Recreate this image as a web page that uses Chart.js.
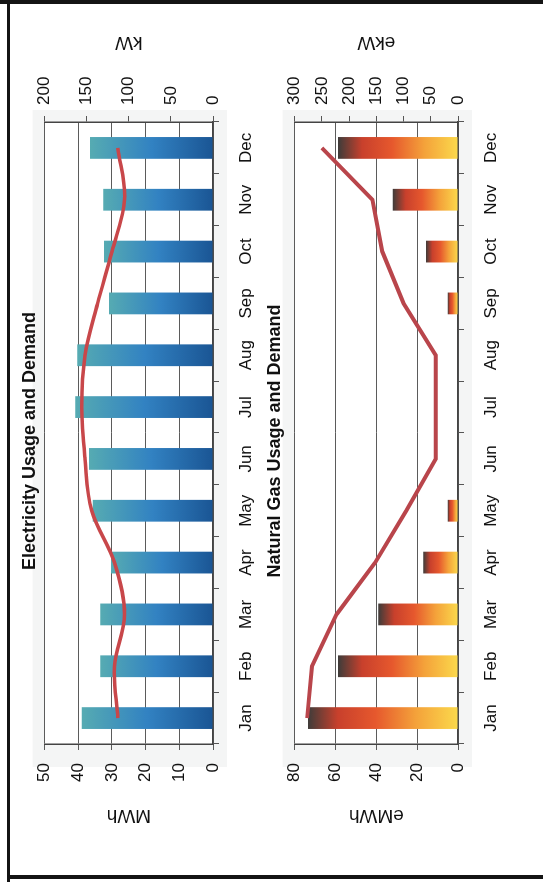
<!DOCTYPE html>
<html>
<head>
<meta charset="utf-8">
<title>Electricity and Natural Gas Usage and Demand</title>
<script src="https://cdn.jsdelivr.net/npm/chart.js@4.4.0/dist/chart.umd.min.js"></script>
<style>
    html, body { margin: 0; padding: 0; background: #fff; width: 543px; height: 882px; overflow: hidden; }
    /* the whole sheet is laid out landscape and turned a quarter to the left */
    #sheet { position: absolute; left: 0; top: 0; width: 882px; height: 543px; background: #fff;
             transform-origin: 0 0; transform: translate(0, 882px) rotate(-90deg); }
    .rule { position: absolute; background: #141414; }
    .chart-box { position: absolute; left: 0; width: 882px; height: 250px; }
    .chart-box canvas { display: block; }
</style>
</head>
<body>
<div id="sheet">
    <div class="rule" style="left:0;top:7px;width:882px;height:3px"></div>
    <div class="rule" style="left:878px;top:0;width:4px;height:543px"></div>
    <div class="rule" style="left:3px;top:8px;width:4px;height:535px"></div>
    <div class="chart-box" style="top:12px"><canvas id="elecChart" width="882" height="250"></canvas></div>
    <div class="chart-box" style="top:262px"><canvas id="gasChart" width="882" height="250"></canvas></div>
</div>

<script>
// ─── Data ───
const months = ['Jan', 'Feb', 'Mar', 'Apr', 'May', 'Jun', 'Jul', 'Aug', 'Sep', 'Oct', 'Nov', 'Dec'];

const elecUsageMWh = [39, 33.5, 33.5, 30.3, 35.7, 36.8, 40.9, 40.3, 30.9, 32.4, 32.6, 36.5];
const elecDemandKW = [113, 117, 105, 117, 144, 152, 156, 152, 137, 120, 105, 113];

const gasUsageEMWh = [73.5, 58.7, 39, 17, 5, 0, 0, 0, 5, 15.7, 32, 58.7];
const gasDemandEKW = [277, 268, 223, 152, 95, 41, 41, 41, 100, 139, 157, 250];

const elecLeftTicks = [0, 10, 20, 30, 40, 50];
const elecRightTicks = [0, 50, 100, 150, 200];
const gasLeftTicks = [0, 20, 40, 60, 80];
const gasRightTicks = [0, 50, 100, 150, 200, 250, 300];

// ─── Look ───
const FONT = "'Liberation Sans', Arial, sans-serif";
Chart.defaults.font.family = FONT;
Chart.defaults.color = '#111';

const elecStops = [[0, '#1a5594'], [0.5, '#3282c2'], [1, '#56abb2']];
const gasStops = [[0, '#fbd94c'], [0.28, '#f4a23a'], [0.55, '#e6582d'], [0.8, '#c8402c'], [1, '#3e3c3a']];

// gradient runs along each bar, from its base to its tip
function barFill(stops) {
    return (c) => {
        const chart = c.chart;
        if (!chart.chartArea) return stops[0][1];
        const y = chart.scales.y;
        const base = y.getPixelForValue(0);
        const tip = y.getPixelForValue(c.raw || 0);
        if (Math.abs(base - tip) < 1) return stops[0][1];
        const g = chart.ctx.createLinearGradient(0, base, 0, tip);
        stops.forEach(([o, col]) => g.addColorStop(o, col));
        return g;
    };
}

// light panel behind each plot
const plotPanel = {
    id: 'plotPanel',
    beforeDraw(chart) {
        const a = chart.chartArea;
        const ctx = chart.ctx;
        ctx.save();
        ctx.fillStyle = '#f4f5f5';
        ctx.fillRect(a.left - 23, a.top - 12, a.width + 35, a.height + 26);
        ctx.fillStyle = '#fff';
        ctx.fillRect(a.left, a.top, a.width, a.height);
        ctx.restore();
    }
};

// both axis titles read bottom-to-top, as on the sheet
const sideTitles = {
    id: 'sideTitles',
    afterDraw(chart, args, opts) {
        const { ctx, chartArea } = chart;
        const cy = (chartArea.top + chartArea.bottom) / 2;
        ctx.save();
        ctx.font = `19px ${FONT}`;
        ctx.fillStyle = '#111';
        ctx.textAlign = 'center';
        ctx.textBaseline = 'middle';
        [[opts.left, opts.leftX], [opts.right, opts.rightX]].forEach(([text, x]) => {
            ctx.save();
            ctx.translate(x, cy);
            ctx.rotate(-Math.PI / 2);
            ctx.fillText(text, 0, 0);
            ctx.restore();
        });
        ctx.restore();
    }
};

function makeChart(id, o) {
    return new Chart(document.getElementById(id), {
        data: {
            labels: months,
            datasets: [
                {
                    type: 'line',
                    label: o.lineLabel,
                    data: o.line,
                    yAxisID: 'y1',
                    borderColor: o.lineColor,
                    borderWidth: o.lineWidth,
                    tension: o.tension,
                    pointRadius: 0,
                    order: 0
                },
                {
                    type: 'bar',
                    label: o.barLabel,
                    data: o.bars,
                    yAxisID: 'y',
                    backgroundColor: barFill(o.stops),
                    barPercentage: 0.5,
                    categoryPercentage: 0.84,
                    order: 1
                }
            ]
        },
        options: {
            responsive: false,
            animation: false,
            events: [],
            layout: { padding: 0 },
            plugins: {
                legend: { display: false },
                tooltip: { enabled: false },
                title: {
                    display: true,
                    text: o.title,
                    font: { size: 18, weight: 'bold' },
                    color: '#111',
                    padding: o.titlePad
                },
                sideTitles: o.sideTitles
            },
            scales: {
                x: {
                    offset: true,
                    grid: { drawOnChartArea: false, drawTicks: true, tickLength: 6, color: '#555', offset: true },
                    border: { display: true, color: '#444', width: 1.5 },
                    ticks: { font: { size: 17 }, color: '#111', padding: 17, maxRotation: 0 },
                    afterFit(s) { s.height = o.xHeight; }
                },
                y: {
                    position: 'left',
                    min: 0,
                    max: o.leftTicks[o.leftTicks.length - 1],
                    afterBuildTicks(s) { s.ticks = o.leftTicks.map(v => ({ value: v })); },
                    grid: { color: '#5b5b5b', lineWidth: 1, tickLength: 6 },
                    border: { display: true, color: '#444', width: 1.5 },
                    ticks: { font: { size: 17 }, color: '#111', padding: 13 },
                    afterFit(s) { s.width = 138; }
                },
                y1: {
                    position: 'right',
                    min: 0,
                    max: o.rightTicks[o.rightTicks.length - 1],
                    afterBuildTicks(s) { s.ticks = o.rightTicks.map(v => ({ value: v })); },
                    grid: { drawOnChartArea: false, tickLength: 6, color: '#555' },
                    border: { display: true, color: '#444', width: 1.5 },
                    ticks: { font: { size: 17 }, color: '#111', padding: 11 },
                    afterFit(s) { s.width = 122; }
                }
            }
        },
        plugins: [plotPanel, sideTitles]
    });
}

makeChart('elecChart', {
    title: 'Electricity Usage and Demand',
    titlePad: { top: 7, bottom: 4 },
    bars: elecUsageMWh,
    barLabel: 'MWh',
    line: elecDemandKW,
    lineLabel: 'kW',
    lineColor: '#c8474a',
    lineWidth: 3.5,
    tension: 0.35,
    stops: elecStops,
    leftTicks: elecLeftTicks,
    rightTicks: elecRightTicks,
    xHeight: 49,
    sideTitles: { left: 'MWh', leftX: 67, right: 'kW', rightX: 840 }
});

makeChart('gasChart', {
    title: 'Natural Gas Usage and Demand',
    titlePad: { top: 2, bottom: 9 },
    bars: gasUsageEMWh,
    barLabel: 'eMWh',
    line: gasDemandEKW,
    lineLabel: 'ekW',
    lineColor: '#b9454b',
    lineWidth: 4,
    tension: 0,
    stops: gasStops,
    leftTicks: gasLeftTicks,
    rightTicks: gasRightTicks,
    xHeight: 54,
    sideTitles: { left: 'eMWh', leftX: 67, right: 'ekW', rightX: 840 }
});
</script>
</body>
</html>
